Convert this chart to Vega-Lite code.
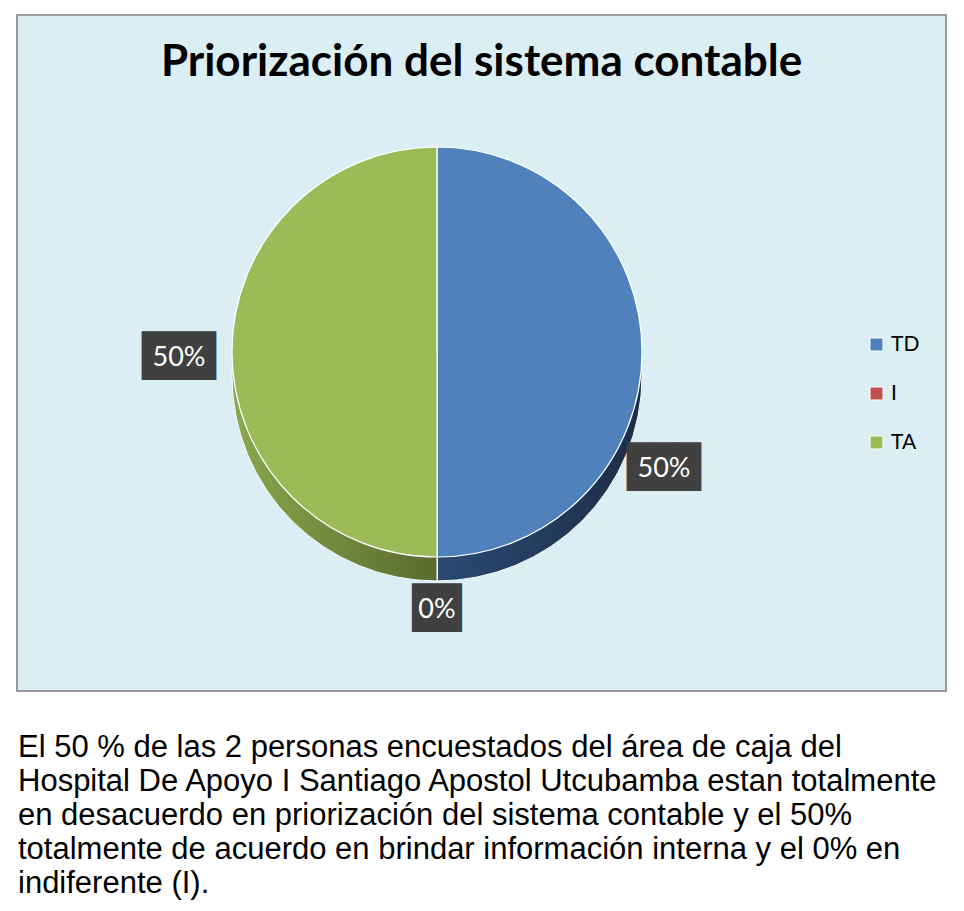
{
  "$schema": "https://vega.github.io/schema/vega-lite/v6.json",
  "background": "white",
  "padding": {"left": 16, "top": 14, "right": 0, "bottom": 0},
  "spacing": 39,
  "config": {"view": {"stroke": null}, "font": "Lato"},
  "datasets": {
    "respuestas": [
      {"cat": "TD", "porcentaje": 0.5, "orden": 1},
      {"cat": "I", "porcentaje": 0, "orden": 2},
      {"cat": "TA", "porcentaje": 0.5, "orden": 3}
    ],
    "parrafo": [
      {"linea": 1, "texto": "El 50 % de las 2 personas encuestados del área de caja del"},
      {"linea": 2, "texto": "Hospital De Apoyo I Santiago Apostol Utcubamba estan totalmente"},
      {"linea": 3, "texto": "en desacuerdo en priorización del sistema contable y el 50%"},
      {"linea": 4, "texto": "totalmente de acuerdo en brindar información interna y el 0% en"},
      {"linea": 5, "texto": "indiferente (I)."}
    ]
  },
  "vconcat": [
    {
      "width": 929,
      "height": 676,
      "view": {"fill": "#DBEEF4", "stroke": "#999999", "strokeWidth": 2},
      "title": {
        "text": "Priorización del sistema contable",
        "font": "Lato",
        "fontSize": 44,
        "fontWeight": "bold",
        "color": "#000000",
        "anchor": "middle",
        "frame": "group",
        "baseline": "alphabetic",
        "offset": -105
      },
      "data": {"name": "respuestas"},
      "encoding": {
        "theta": {"field": "porcentaje", "type": "quantitative", "stack": true},
        "order": {"field": "orden", "type": "quantitative"},
        "detail": {"field": "cat", "type": "nominal"}
      },
      "layer": [
        {
          "mark": {"type": "arc", "radius": 205, "xOffset": -44.5, "yOffset": 23, "stroke": "#ffffff", "strokeWidth": 1},
          "encoding": {
            "fill": {
              "condition": {
                "test": "datum.cat === 'TD'",
                "value": {"gradient": "linear", "x1": 0, "y1": 0, "x2": 1, "y2": 0, "stops": [{"offset": 0, "color": "#2A4A74"}, {"offset": 1, "color": "#1C2D47"}]}
              },
              "value": {"gradient": "linear", "x1": 0, "y1": 0, "x2": 1, "y2": 0, "stops": [{"offset": 0, "color": "#8AA84E"}, {"offset": 1, "color": "#5A6A2E"}]}
            }
          }
        },
        {
          "mark": {"type": "arc", "radius": 205, "xOffset": -44.5, "yOffset": -1, "stroke": "#ffffff", "strokeWidth": 1.2},
          "encoding": {
            "color": {
              "field": "cat",
              "type": "nominal",
              "scale": {"domain": ["TD", "I", "TA"], "range": ["#4F81BD", "#C0504D", "#9BBB59"]},
              "legend": {
                "title": null,
                "orient": "none",
                "legendX": 849,
                "legendY": 319,
                "symbolType": "square",
                "symbolSize": 169,
                "symbolStrokeColor": "#ffffff",
                "symbolStrokeWidth": 1,
                "symbolOpacity": 1,
                "labelFont": "Lato",
                "labelFontSize": 21,
                "labelColor": "#000000",
                "rowPadding": 27,
                "labelOffset": 4,
                "padding": 0
              }
            }
          }
        },
        {
          "mark": {
            "type": "text", "radius": 258, "xOffset": -44.5, "yOffset": 5,
            "font": "DejaVu Sans Mono", "fontSize": 41, "baseline": "middle", "align": "center",
            "color": "#404040",
            "dx": {"expr": "datum.cat === 'TD' ? -31 : 0"},
            "dy": {"expr": "datum.cat === 'TD' ? 111 : (datum.cat === 'I' ? -6 : 0)"}
          },
          "encoding": {
            "text": {"condition": {"test": "datum.cat === 'I'", "value": "██"}, "value": "███"}
          }
        },
        {
          "mark": {
            "type": "text", "radius": 258, "xOffset": -44.5, "yOffset": 5,
            "font": "Lato", "fontSize": 27, "baseline": "middle", "align": "center",
            "color": "#ffffff",
            "dx": {"expr": "datum.cat === 'TD' ? -31 : 0"},
            "dy": {"expr": "datum.cat === 'TD' ? 111 : (datum.cat === 'I' ? -6 : 0)"}
          },
          "encoding": {
            "text": {"field": "porcentaje", "type": "quantitative", "format": ".0%"}
          }
        }
      ]
    },
    {
      "width": 947,
      "height": 150,
      "view": {"stroke": null, "fill": null},
      "data": {"name": "parrafo"},
      "mark": {
        "type": "text", "align": "left", "baseline": "alphabetic",
        "font": "Liberation Sans", "fontSize": 31, "color": "#000000",
        "dx": -472.5
      },
      "encoding": {
        "y": {"field": "linea", "type": "ordinal", "axis": null, "scale": {"type": "point", "padding": 0.193}},
        "text": {"field": "texto", "type": "nominal"}
      }
    }
  ]
}
